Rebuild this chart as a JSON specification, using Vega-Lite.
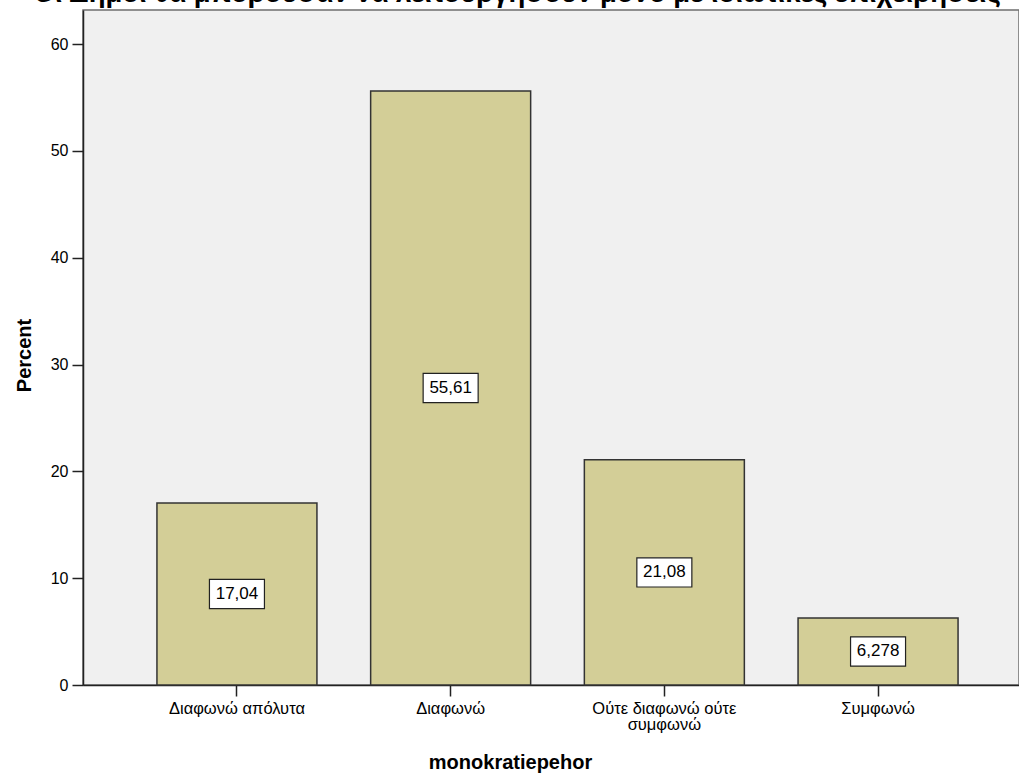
{
  "$schema": "https://vega.github.io/schema/vega-lite/v6.json",
  "width": 936,
  "height": 675,
  "autosize": {"type": "none"},
  "padding": {"left": 83, "top": 10, "right": 0, "bottom": 93},
  "background": "white",
  "title": {
    "text": "Οι Δήμοι θα μπορούσαν να λειτουργήσουν μόνο με ιδιωτικές επιχειρήσεις",
    "font": "Liberation Sans",
    "fontSize": 27.5,
    "fontWeight": "bold",
    "color": "black",
    "anchor": "middle",
    "baseline": "alphabetic",
    "offset": -6,
    "dy": 13,
    "dx": -34
  },
  "data": {
    "values": [
      {"category": "Διαφωνώ απόλυτα", "percent": 17.04, "label": "17,04"},
      {"category": "Διαφωνώ", "percent": 55.61, "label": "55,61"},
      {"category": "Ούτε διαφωνώ ούτε συμφωνώ", "percent": 21.08, "label": "21,08"},
      {"category": "Συμφωνώ", "percent": 6.278, "label": "6,278"}
    ]
  },
  "config": {
    "view": {"fill": "#f0f0f0", "stroke": "#6e6e6e", "strokeWidth": 1.5},
    "font": "Liberation Sans"
  },
  "encoding": {
    "x": {
      "field": "category",
      "type": "nominal",
      "sort": null,
      "scale": {"range": [0, 949], "paddingInner": 0.2513, "paddingOuter": 0.346},
      "axis": {
        "title": "monokratiepehor",
        "titleFont": "Liberation Sans",
        "titleFontSize": 20,
        "titleFontWeight": "bold",
        "titleColor": "black",
        "titleX": 427,
        "titleY": 83,
        "titleAnchor": "middle",
        "titleAlign": "center",
        "titleBaseline": "alphabetic",
        "labelAngle": 0,
        "labelFont": "Liberation Sans",
        "labelFontSize": 16.5,
        "labelColor": "black",
        "labelPadding": 4,
        "labelLineHeight": 16,
        "labelBaseline": "top",
        "labelExpr": "datum.value == 'Ούτε διαφωνώ ούτε συμφωνώ' ? ['Ούτε διαφωνώ ούτε', 'συμφωνώ'] : datum.value",
        "ticks": true,
        "tickSize": 11,
        "tickWidth": 1.5,
        "tickColor": "#222",
        "domainColor": "#222",
        "domainWidth": 1.5,
        "labelLimit": 300
      }
    }
  },
  "layer": [
    {
      "mark": {"type": "bar", "fill": "#d3ce97", "stroke": "#333333", "strokeWidth": 1.5},
      "encoding": {
        "y": {
          "field": "percent",
          "type": "quantitative",
          "scale": {"domain": [0, 63.2], "nice": false},
          "axis": {
            "title": "Percent",
            "titleFont": "Liberation Sans",
            "titleFontSize": 20,
            "titleFontWeight": "bold",
            "titleColor": "black",
            "titleX": -53,
            "titleY": 345,
            "titleAngle": -90,
            "titleAlign": "center",
            "titleBaseline": "alphabetic",
            "values": [0, 10, 20, 30, 40, 50, 60],
            "grid": false,
            "labelFont": "Liberation Sans",
            "labelFontSize": 16,
            "labelColor": "black",
            "labelPadding": 4,
            "ticks": true,
            "tickSize": 11,
            "tickWidth": 1.5,
            "tickColor": "#222",
            "domainColor": "#222",
            "domainWidth": 1.5
          }
        }
      }
    },
    {
      "mark": {
        "type": "point",
        "shape": "M-1,-0.53H1V0.53H-1Z",
        "size": 3025,
        "filled": true,
        "fill": "white",
        "stroke": "#222",
        "strokeWidth": 1.2,
        "opacity": 1
      },
      "encoding": {
        "y": {"field": "percent", "type": "quantitative", "scale": {"domain": [0, 126.4], "nice": false}, "axis": null}
      }
    },
    {
      "mark": {"type": "text", "font": "Liberation Sans", "fontSize": 17, "color": "black", "baseline": "middle", "align": "center"},
      "encoding": {
        "y": {"field": "percent", "type": "quantitative", "scale": {"domain": [0, 126.4], "nice": false}, "axis": null},
        "text": {"field": "label"}
      }
    }
  ],
  "resolve": {"scale": {"y": "independent"}, "axis": {"y": "independent"}}
}
